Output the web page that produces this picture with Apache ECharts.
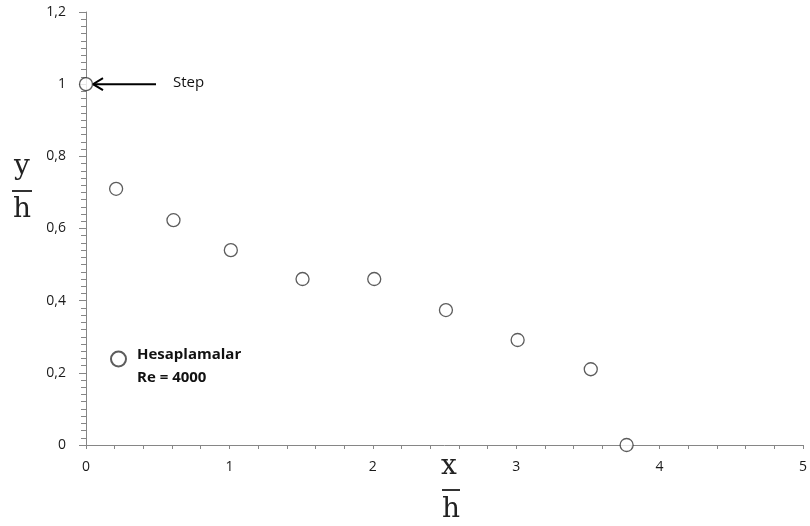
<!DOCTYPE html>
<html>
<head>
<meta charset="utf-8">
<script src="https://cdn.jsdelivr.net/npm/echarts@6/dist/echarts.min.js"></script>
<style>html,body{margin:0;padding:0;background:#fff}#c{width:810px;height:526px}</style>
</head>
<body>
<div id="c"></div>
<script>
const xValues = [0, 0.21, 0.61, 1.01, 1.51, 2.01, 2.51, 3.01, 3.52, 3.77];
const yValues = [1.0, 0.71, 0.623, 0.54, 0.46, 0.46, 0.374, 0.291, 0.21, 0.0];
const xTicks = [0, 1, 2, 3, 4, 5];
const yTicks = [0, 0.2, 0.4, 0.6, 0.8, 1, 1.2];
const seriesName = 'Hesaplamalar';
const seriesNote = 'Re = 4000';
const annotation = 'Step';

const chart = echarts.init(document.getElementById('c'));
const fmt = v => String(Math.round(v * 10) / 10).replace('.', ',');
const axisCol = '#868686';
const labelFont = {color: '#1a1a1a', fontSize: 14, fontFamily: 'Open Sans'};

chart.setOption({
  animation: false,
  backgroundColor: '#fff',
  grid: {left: 86, right: 4, top: 12, bottom: 81},
  legend: {
    left: 110, top: 347, orient: 'vertical', padding: 0,
    icon: 'circle', itemWidth: 15, itemHeight: 15,
    formatter: name => '{a|' + name + '}',
    textStyle: {
      fontWeight: 'bold', fontSize: 15, fontFamily: 'Open Sans', color: '#111',
      rich: {a: {fontWeight: 'bold', fontSize: 15, fontFamily: 'Open Sans', color: '#111', padding: [0, 0, 9, 6]}}
    },
    data: [seriesName]
  },
  xAxis: {
    type: 'value', min: xTicks[0], max: xTicks[xTicks.length - 1], interval: 1,
    axisLine: {lineStyle: {color: axisCol, width: 1}},
    axisTick: {length: 4, lineStyle: {color: axisCol}},
    minorTick: {show: true, splitNumber: 5, length: 4, lineStyle: {color: axisCol}},
    splitLine: {show: false},
    axisLabel: Object.assign({margin: 15, formatter: fmt}, labelFont)
  },
  yAxis: {
    type: 'value', min: yTicks[0], max: yTicks[yTicks.length - 1], interval: 0.2,
    axisLine: {show: true, lineStyle: {color: axisCol, width: 1}},
    axisTick: {show: true, length: 7, lineStyle: {color: axisCol}},
    minorTick: {show: true, splitNumber: 10, length: 5, lineStyle: {color: axisCol}},
    splitLine: {show: false},
    axisLabel: Object.assign({margin: 20, formatter: fmt}, labelFont)
  },
  series: [{
    name: seriesName,
    type: 'scatter',
    symbol: 'circle',
    symbolSize: 13,
    itemStyle: {color: '#fff', borderColor: '#333', borderWidth: 1.3},
    data: xValues.map((x, i) => [x, yValues[i]]),
    z: 5
  }]
});

const p0 = chart.convertToPixel({gridIndex: 0}, [0, 1]);
const ax = p0[0] + 7, ay = p0[1];
const serif = {fontSize: 28, fontFamily: 'DejaVu Serif', fill: '#222', textAlign: 'center', textVerticalAlign: 'middle'};
chart.setOption({
  graphic: [
    {type: 'line', shape: {x1: ax, y1: ay, x2: ax + 63, y2: ay}, style: {stroke: '#000', lineWidth: 2}},
    {type: 'polyline', shape: {points: [[ax + 10, ay - 6], [ax, ay], [ax + 10, ay + 6]]}, style: {stroke: '#000', lineWidth: 2, fill: null}},
    {type: 'text', style: {x: ax + 80, y: ay - 1, text: annotation, fontSize: 15, fontFamily: 'Open Sans', fill: '#111', textVerticalAlign: 'middle'}},
    {type: 'text', style: {x: 137, y: 377.5, text: seriesNote, fontSize: 15, fontWeight: 'bold', fontFamily: 'Open Sans', fill: '#111', textVerticalAlign: 'middle'}},
    // y/h axis title
    {type: 'text', style: Object.assign({x: 22, y: 167, text: 'y'}, serif)},
    {type: 'rect', shape: {x: 12, y: 190, width: 20, height: 2}, style: {fill: '#333'}},
    {type: 'text', style: Object.assign({x: 22, y: 210, text: 'h'}, serif)},
    // x/h axis title
    {type: 'text', style: Object.assign({x: 449, y: 467, text: 'x'}, serif)},
    {type: 'rect', shape: {x: 442, y: 489, width: 18, height: 2}, style: {fill: '#333'}},
    {type: 'text', style: Object.assign({x: 451, y: 510, text: 'h'}, serif)}
  ]
});
</script>
</body>
</html>
